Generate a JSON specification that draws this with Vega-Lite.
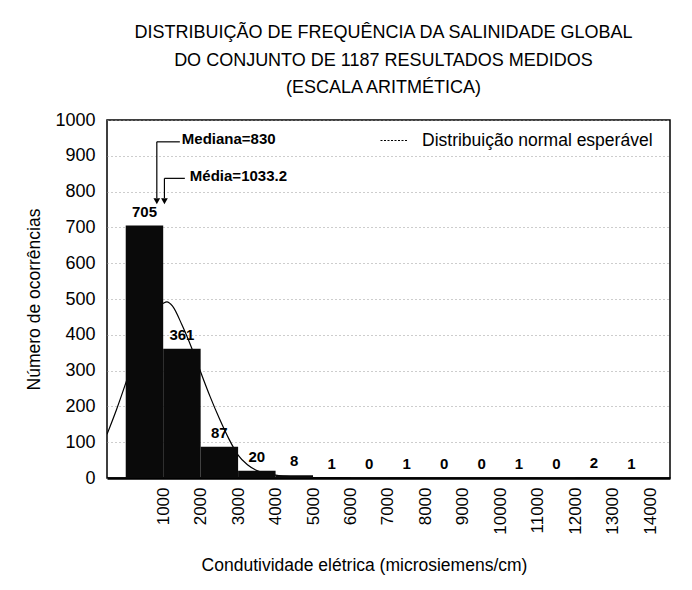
{
  "$schema": "https://vega.github.io/schema/vega-lite/v6.json",
  "width": 563,
  "height": 358,
  "autosize": {"type": "none"},
  "padding": {"left": 107, "top": 120, "right": 22, "bottom": 112},
  "background": "white",
  "title": {
    "text": ["DISTRIBUIÇÃO DE FREQUÊNCIA DA SALINIDADE GLOBAL", "DO CONJUNTO DE 1187 RESULTADOS MEDIDOS", "(ESCALA ARITMÉTICA)"],
    "fontSize": 18,
    "fontWeight": "normal",
    "font": "Liberation Sans",
    "lineHeight": 27.5,
    "offset": 14,
    "dx": -5,
    "anchor": "middle",
    "color": "black"
  },
  "config": {
    "view": {"stroke": "black", "strokeWidth": 1.5},
    "font": "Liberation Sans",
    "axisX": {
      "labelAngle": 270,
      "labelFontSize": 17,
      "labelColor": "black",
      "labelPadding": 9,
      "labelOverlap": false,
      "ticks": false,
      "domainColor": "black",
      "domainWidth": 2.5,
      "grid": false,
      "titleFontSize": 17.5,
      "titleFontWeight": "normal",
      "titleColor": "black",
      "titlePadding": 22,
      "titleX": 257
    },
    "axisY": {
      "labelOverlap": false,
      "titleFontSize": 17.5,
      "titleFontWeight": "normal",
      "titleColor": "black",
      "titlePadding": 11,
      "labelFontSize": 18,
      "labelColor": "black",
      "labelPadding": 12,
      "ticks": false,
      "domain": false,
      "grid": true,
      "gridColor": "#9a9a9a",
      "gridDash": [1, 3],
      "gridWidth": 1
    }
  },
  "datasets": {
    "bins": [
      {"inicio": 0, "fim": 1000, "centro": 500, "n": 705},
      {"inicio": 1000, "fim": 2000, "centro": 1500, "n": 361},
      {"inicio": 2000, "fim": 3000, "centro": 2500, "n": 87},
      {"inicio": 3000, "fim": 4000, "centro": 3500, "n": 20},
      {"inicio": 4000, "fim": 5000, "centro": 4500, "n": 8},
      {"inicio": 5000, "fim": 6000, "centro": 5500, "n": 1},
      {"inicio": 6000, "fim": 7000, "centro": 6500, "n": 0},
      {"inicio": 7000, "fim": 8000, "centro": 7500, "n": 1},
      {"inicio": 8000, "fim": 9000, "centro": 8500, "n": 0},
      {"inicio": 9000, "fim": 10000, "centro": 9500, "n": 0},
      {"inicio": 10000, "fim": 11000, "centro": 10500, "n": 1},
      {"inicio": 11000, "fim": 12000, "centro": 11500, "n": 0},
      {"inicio": 12000, "fim": 13000, "centro": 12500, "n": 2},
      {"inicio": 13000, "fim": 14000, "centro": 13500, "n": 1}
    ],
    "normal": [
      {"x": -500, "y": 122},
      {"x": -250, "y": 190},
      {"x": 0, "y": 265},
      {"x": 250, "y": 345},
      {"x": 500, "y": 418},
      {"x": 750, "y": 466},
      {"x": 1000, "y": 488},
      {"x": 1100, "y": 492},
      {"x": 1250, "y": 480},
      {"x": 1500, "y": 428},
      {"x": 1750, "y": 366},
      {"x": 2000, "y": 296},
      {"x": 2250, "y": 228},
      {"x": 2500, "y": 166},
      {"x": 2750, "y": 110},
      {"x": 3000, "y": 64},
      {"x": 3250, "y": 37},
      {"x": 3500, "y": 21},
      {"x": 3750, "y": 13},
      {"x": 4000, "y": 8},
      {"x": 4500, "y": 3},
      {"x": 5000, "y": 1},
      {"x": 6000, "y": 0}
    ],
    "guias": [
      {"x": 830, "x2": 830, "y": 939, "y2": 782},
      {"x": 830, "x2": 1445, "y": 939, "y2": 939},
      {"x": 1033.2, "x2": 1033.2, "y": 837, "y2": 782},
      {"x": 1033.2, "x2": 1578, "y": 837, "y2": 837}
    ],
    "setas": [
      {"x": 830, "y": 773},
      {"x": 1033.2, "y": 773}
    ],
    "rotulos": [
      {"x": 1498, "y": 948, "texto": "Mediana=830"},
      {"x": 1712, "y": 844, "texto": "Média=1033.2"}
    ]
  },
  "layer": [
    {
      "data": {"name": "normal"},
      "mark": {"type": "line", "interpolate": "monotone", "strokeWidth": 1.2, "clip": true},
      "encoding": {
        "x": {
          "field": "x",
          "type": "quantitative",
          "scale": {"domain": [-500, 14530], "nice": false, "zero": false, "padding": 0},
          "axis": {"values": [1000, 2000, 3000, 4000, 5000, 6000, 7000, 8000, 9000, 10000, 11000, 12000, 13000, 14000], "format": "d", "title": "Condutividade elétrica (microsiemens/cm)"}
        },
        "y": {
          "field": "y",
          "type": "quantitative",
          "scale": {"domain": [0, 1000], "nice": false, "padding": 0},
          "axis": {"values": [0, 100, 200, 300, 400, 500, 600, 700, 800, 900, 1000], "format": "d", "title": "Número de ocorrências"}
        },
        "color": {
          "datum": "Distribuição normal esperável",
          "scale": {"range": ["black"]},
          "legend": {
            "orient": "none",
            "legendX": 273,
            "legendY": 6,
            "title": null,
            "symbolType": "stroke",
            "symbolSize": 784,
            "symbolStrokeWidth": 1,
            "symbolDash": [2, 1.5],
            "symbolStrokeColor": "black",
            "labelFontSize": 17.5,
            "labelFont": "Liberation Sans",
            "labelColor": "black",
            "labelOffset": 13,
            "labelLimit": 400,
            "padding": 0
          }
        }
      }
    },
    {
      "data": {"name": "bins"},
      "mark": {"type": "bar", "color": "#0a0a0a", "orient": "vertical"},
      "encoding": {
        "x": {"field": "inicio", "type": "quantitative", "axis": {"values": [1000, 2000, 3000, 4000, 5000, 6000, 7000, 8000, 9000, 10000, 11000, 12000, 13000, 14000], "format": "d", "title": "Condutividade elétrica (microsiemens/cm)"}},
        "x2": {"field": "fim"},
        "y": {"field": "n", "type": "quantitative", "axis": {"values": [0, 100, 200, 300, 400, 500, 600, 700, 800, 900, 1000], "format": "d", "title": "Número de ocorrências"}},
        "y2": {"datum": 0}
      }
    },
    {
      "data": {"name": "bins"},
      "mark": {"type": "text", "fontWeight": "bold", "fontSize": 15, "dy": -14, "baseline": "middle", "color": "black"},
      "encoding": {
        "x": {"field": "centro", "type": "quantitative", "axis": {"values": [1000, 2000, 3000, 4000, 5000, 6000, 7000, 8000, 9000, 10000, 11000, 12000, 13000, 14000], "format": "d", "title": "Condutividade elétrica (microsiemens/cm)"}},
        "y": {"field": "n", "type": "quantitative", "axis": {"values": [0, 100, 200, 300, 400, 500, 600, 700, 800, 900, 1000], "format": "d", "title": "Número de ocorrências"}},
        "text": {"field": "n", "type": "quantitative"}
      }
    },
    {
      "data": {"name": "guias"},
      "mark": {"type": "rule", "color": "black", "strokeWidth": 1.2},
      "encoding": {
        "x": {"field": "x", "type": "quantitative", "axis": {"values": [1000, 2000, 3000, 4000, 5000, 6000, 7000, 8000, 9000, 10000, 11000, 12000, 13000, 14000], "format": "d", "title": "Condutividade elétrica (microsiemens/cm)"}},
        "x2": {"field": "x2"},
        "y": {"field": "y", "type": "quantitative", "axis": {"values": [0, 100, 200, 300, 400, 500, 600, 700, 800, 900, 1000], "format": "d", "title": "Número de ocorrências"}},
        "y2": {"field": "y2"}
      }
    },
    {
      "data": {"name": "setas"},
      "mark": {"type": "point", "shape": "triangle-down", "filled": true, "size": 45, "color": "black", "opacity": 1},
      "encoding": {
        "x": {"field": "x", "type": "quantitative", "axis": {"values": [1000, 2000, 3000, 4000, 5000, 6000, 7000, 8000, 9000, 10000, 11000, 12000, 13000, 14000], "format": "d", "title": "Condutividade elétrica (microsiemens/cm)"}},
        "y": {"field": "y", "type": "quantitative", "axis": {"values": [0, 100, 200, 300, 400, 500, 600, 700, 800, 900, 1000], "format": "d", "title": "Número de ocorrências"}}
      }
    },
    {
      "data": {"name": "rotulos"},
      "mark": {"type": "text", "fontWeight": "bold", "fontSize": 15, "align": "left", "baseline": "middle", "color": "black"},
      "encoding": {
        "x": {"field": "x", "type": "quantitative", "axis": {"values": [1000, 2000, 3000, 4000, 5000, 6000, 7000, 8000, 9000, 10000, 11000, 12000, 13000, 14000], "format": "d", "title": "Condutividade elétrica (microsiemens/cm)"}},
        "y": {"field": "y", "type": "quantitative", "axis": {"values": [0, 100, 200, 300, 400, 500, 600, 700, 800, 900, 1000], "format": "d", "title": "Número de ocorrências"}},
        "text": {"field": "texto", "type": "nominal"}
      }
    }
  ]
}
